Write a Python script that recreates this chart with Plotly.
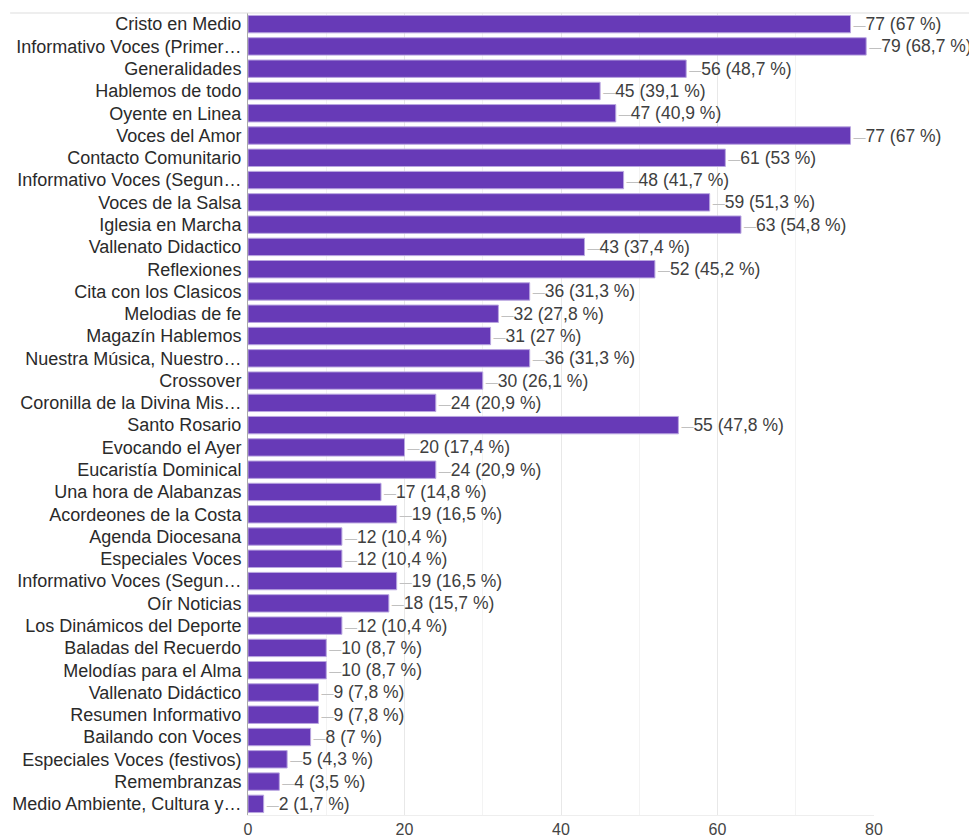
import plotly.graph_objects as go

categories = [
    "Cristo en Medio", "Informativo Voces (Primer…", "Generalidades", "Hablemos de todo",
    "Oyente en Linea", "Voces del Amor", "Contacto Comunitario", "Informativo Voces (Segun…",
    "Voces de la Salsa", "Iglesia en Marcha", "Vallenato Didactico", "Reflexiones",
    "Cita con los Clasicos", "Melodias de fe", "Magazín Hablemos", "Nuestra Música, Nuestro…",
    "Crossover", "Coronilla de la Divina Mis…", "Santo Rosario", "Evocando el Ayer",
    "Eucaristía Dominical", "Una hora de Alabanzas", "Acordeones de la Costa", "Agenda Diocesana",
    "Especiales Voces", "Informativo Voces (Segun…", "Oír Noticias", "Los Dinámicos del Deporte",
    "Baladas del Recuerdo", "Melodías para el Alma", "Vallenato Didáctico", "Resumen Informativo",
    "Bailando con Voces", "Especiales Voces (festivos)", "Remembranzas", "Medio Ambiente, Cultura y…",
]
counts = [77, 79, 56, 45, 47, 77, 61, 48, 59, 63, 43, 52, 36, 32, 31, 36, 30, 24, 55, 20,
          24, 17, 19, 12, 12, 19, 18, 12, 10, 10, 9, 9, 8, 5, 4, 2]
percents = ["67", "68,7", "48,7", "39,1", "40,9", "67", "53", "41,7", "51,3", "54,8", "37,4",
            "45,2", "31,3", "27,8", "27", "31,3", "26,1", "20,9", "47,8", "17,4", "20,9", "14,8",
            "16,5", "10,4", "10,4", "16,5", "15,7", "10,4", "8,7", "8,7", "7,8", "7,8", "7", "4,3",
            "3,5", "1,7"]
x_ticks = [0, 20, 40, 60, 80]

pos = list(range(len(categories)))
labels = [f"<span style='color:#c0c0c0;font-size:12px'>—</span>{c} ({p} %)"
          for c, p in zip(counts, percents)]

FONT = "Liberation Sans, Arial"

fig = go.Figure()
fig.add_trace(go.Bar(
    x=counts, y=pos, orientation="h",
    marker=dict(color="#673ab7", line=dict(color="#b9a6e0", width=1)),
    text=labels, textposition="outside", cliponaxis=False, constraintext="none",
    textfont=dict(family=FONT, size=17.5, color="#404040"),
    width=0.78,
))

fig.update_layout(
    width=969, height=840,
    margin=dict(l=248, r=95, t=13, b=25, autoexpand=False),
    paper_bgcolor="white", plot_bgcolor="white",
    showlegend=False,
    font=dict(family=FONT, size=18, color="#222222"),
)
fig.update_xaxes(
    range=[0, 80], tickvals=x_ticks,
    showgrid=True, gridcolor="#e8e8e8", gridwidth=1,
    minor=dict(dtick=10, showgrid=True, gridcolor="#f3f3f3"),
    zeroline=False, showline=True, linecolor="#eeeeee",
    tickfont=dict(size=16, color="#444444"),
    ticklabelstandoff=0, automargin=False,
)
fig.update_yaxes(
    tickvals=pos, ticktext=categories, range=[len(categories) - 0.5, -0.5],
    showgrid=False, zeroline=False, showline=True, linecolor="#aaaaaa", linewidth=1,
    ticks="", ticklabelstandoff=2, automargin=False,
    tickfont=dict(size=18, color="#2a2a2a"),
)
fig.add_shape(type="line", xref="paper", yref="paper", x0=-0.38, x1=1.2, y0=1, y1=1,
              line=dict(color="#dddddd", width=1))

fig.write_html("out.html")
